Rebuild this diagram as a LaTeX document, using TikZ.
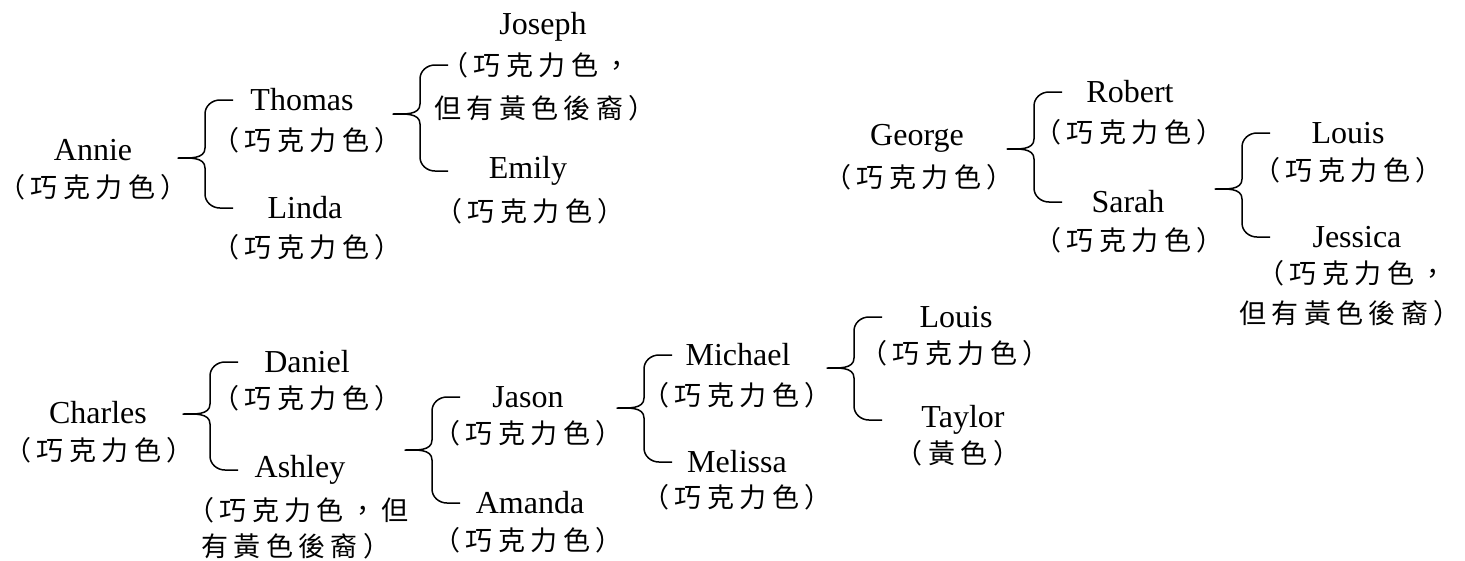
\documentclass[tikz,border=0pt]{standalone}
\usepackage{fontspec}
\setmainfont{Liberation Serif}
\newfontfamily\cjk[LetterSpace=20]{Noto Sans CJK TC}
\usetikzlibrary{calc}
\tikzset{
    person/.style={inner sep=0pt, font=\fontsize{32}{37}\selectfont},
    tint/.style={inner sep=0pt, font=\fontsize{27}{37}\selectfont\cjk},
    forkline/.style={draw=black, line width=1.5pt, line join=round},
}
% brace from tip #1 to the upper child #2 and the lower child #3
\newcommand{\fork}[3]{%
  \draw[forkline] ($(#1 |- #2)+(55,0)$) -- ($(#1 |- #2)+(42,0)$)
    to[out=180,in=90] ($(#1 |- #2)+(27,-14)$) -- ($(#1)+(27,10)$)
    to[out=-90,in=0] (#1) to[out=0,in=90] ($(#1)+(27,-10)$)
    -- ($(#1 |- #3)+(27,14)$) to[out=-90,in=180] ($(#1 |- #3)+(42,0)$)
    -- ($(#1 |- #3)+(55,0)$);}

\begin{document}
\begin{tikzpicture}[x=1pt,y=1pt]
\useasboundingbox (0,0) rectangle (1465,-560);
% Annie
\node[person] (annie) at (93,-150) {Annie};
\node[tint] (annie-c) at (93,-187) {（巧克力色）};
\node[person] (thomas) at (302,-100) {Thomas};
\node[tint] (thomas-c) at (307,-140) {（巧克力色）};
\node[person] (linda) at (305,-208) {Linda};
\node[tint] (linda-c) at (307,-247) {（巧克力色）};
\node[person] (joseph) at (543,-27) {Joseph};
\node[tint] (joseph-c) at (536,-65) {（巧克力色，};
\node[tint] (joseph-d) at (545,-108) {但有黃色後裔）};
\node[person] (emily) at (528,-171) {Emily};
\node[tint] (emily-c) at (530,-211) {（巧克力色）};
\coordinate (f1) at (178,-158);
\coordinate (f2) at (393,-114);
\fork{f1}{thomas}{linda}
\fork{f2}{joseph-c}{emily}
% George
\node[person] (george) at (917,-138) {George};
\node[tint] (george-c) at (919,-177) {（巧克力色）};
\node[person] (robert) at (1130,-92) {Robert};
\node[tint] (robert-c) at (1129,-132) {（巧克力色）};
\node[person] (sarah) at (1128,-202) {Sarah};
\node[tint] (sarah-c) at (1129,-240) {（巧克力色）};
\node[person] (louis) at (1348,-133) {Louis};
\node[tint] (louis-c) at (1348,-170) {（巧克力色）};
\node[person] (jessica) at (1357,-237) {Jessica};
\node[tint] (jessica-c) at (1352,-273) {（巧克力色，};
\node[tint] (jessica-d) at (1350,-313) {但有黃色後裔）};
\coordinate (f3) at (1007,-149);
\coordinate (f4) at (1215,-189);
\fork{f3}{robert}{sarah}
\fork{f4}{louis}{jessica}
% Charles
\node[person] (charles) at (98,-413) {Charles};
\node[tint] (charles-c) at (99,-450) {（巧克力色）};
\node[person] (daniel) at (307,-362) {Daniel};
\node[tint] (daniel-c) at (307,-398) {（巧克力色）};
\node[person] (ashley) at (300,-470) {Ashley};
\node[tint] (ashley-c) at (298,-510) {（巧克力色，但};
\node[tint, anchor=west] (ashley-d) at (201,-546) {有黃色後裔）};
\node[person] (jason) at (528,-397) {Jason};
\node[tint] (jason-c) at (528,-433) {（巧克力色）};
\node[person] (amanda) at (530,-503) {Amanda};
\node[tint] (amanda-c) at (528,-540) {（巧克力色）};
\node[person] (michael) at (738,-355) {Michael};
\node[tint] (michael-c) at (737,-395) {（巧克力色）};
\node[person] (melissa) at (737,-462) {Melissa};
\node[tint] (melissa-c) at (737,-497) {（巧克力色）};
\node[person] (louis2) at (956,-317) {Louis};
\node[tint] (louis2-c) at (955,-353) {（巧克力色）};
\node[person] (taylor) at (963,-420) {Taylor};
\node[tint] (taylor-c) at (958,-453) {（黃色）};
\coordinate (f5) at (183,-414);
\coordinate (f6) at (405,-450);
\coordinate (f7) at (617,-408);
\coordinate (f8) at (827,-368);
\fork{f5}{daniel}{ashley}
\fork{f6}{jason}{amanda}
\fork{f7}{michael}{melissa}
\fork{f8}{louis2}{taylor}
\end{tikzpicture}
\end{document}
